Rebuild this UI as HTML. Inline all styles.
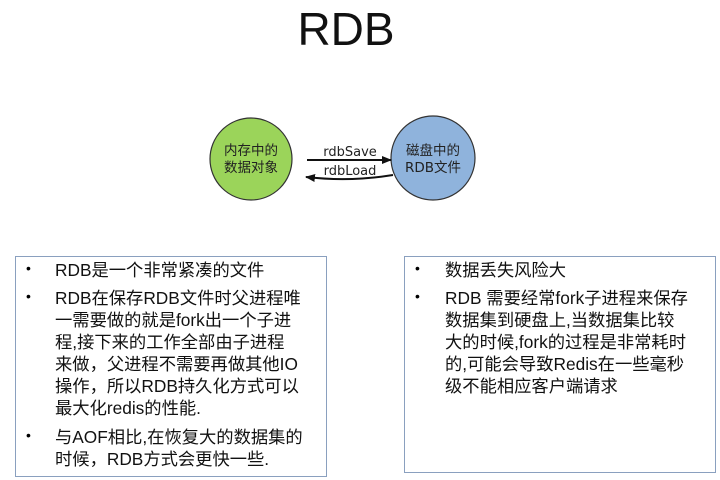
<!DOCTYPE html>
<html><head><meta charset="utf-8"><style>
body{margin:0;width:720px;height:480px;background:#fff;position:relative;overflow:hidden;font-family:"Liberation Sans","Noto Sans CJK SC",sans-serif;}
.t{position:absolute;left:0;width:692px;top:2px;text-align:center;font-size:46px;color:#111;}
.box{position:absolute;border:1.5px solid #8aa0bf;box-sizing:border-box;}
.l{position:absolute;font-size:17.3px;color:#111;white-space:nowrap;line-height:22px;}
.b{position:absolute;font-size:14px;}
</style></head><body>
<div class="t">RDB</div>
<svg width="720" height="480" style="position:absolute;left:0;top:0">
<defs><marker id="a" markerWidth="10" markerHeight="8" refX="9" refY="4" orient="auto" markerUnits="userSpaceOnUse"><path d="M0,0 L10,4 L0,8 Z" fill="#111"/></marker></defs>
<circle cx="251" cy="159" r="41" fill="#9bd45a" stroke="#333" stroke-width="1.2"/>
<circle cx="433" cy="158" r="42" fill="#8fb3dc" stroke="#333" stroke-width="1.2"/>
<line x1="307" y1="160" x2="391" y2="160" stroke="#111" stroke-width="2" marker-end="url(#a)"/>
<path d="M393,175 Q350,182 306,177" fill="none" stroke="#111" stroke-width="2" marker-end="url(#a)"/>
<text x="350" y="156" font-size="13" text-anchor="middle" font-family="DejaVu Sans" fill="#222">rdbSave</text>
<text x="350" y="175" font-size="13" text-anchor="middle" font-family="DejaVu Sans" fill="#222">rdbLoad</text>
<text x="251" y="155" font-size="13.5" text-anchor="middle" font-family="Noto Sans CJK SC" fill="#222">内存中的</text>
<text x="251" y="172" font-size="13.5" text-anchor="middle" font-family="Noto Sans CJK SC" fill="#222">数据对象</text>
<text x="433" y="155" font-size="13.5" text-anchor="middle" font-family="Noto Sans CJK SC" fill="#222">磁盘中的</text>
<text x="433" y="172" font-size="13.5" text-anchor="middle" font-family="DejaVu Sans, Noto Sans CJK SC" fill="#222">RDB文件</text>
</svg>
<div class="box" style="left:15px;top:256px;width:312px;height:221px"></div>
<div class="box" style="left:404px;top:256px;width:312px;height:217px"></div>
<div class="b" style="left:26px;top:260px">•</div>
<div class="b" style="left:26px;top:288px">•</div>
<div class="b" style="left:26px;top:427px">•</div>
<div class="l" style="left:55px;top:259px">RDB是一个非常紧凑的文件</div>
<div class="l" style="left:55px;top:287px">RDB在保存RDB文件时父进程唯<br>一需要做的就是fork出一个子进<br>程,接下来的工作全部由子进程<br>来做，父进程不需要再做其他IO<br>操作，所以RDB持久化方式可以<br>最大化redis的性能.</div>
<div class="l" style="left:55px;top:426px">与AOF相比,在恢复大的数据集的<br>时候，RDB方式会更快一些.</div>
<div class="b" style="left:415px;top:260px">•</div>
<div class="b" style="left:415px;top:288px">•</div>
<div class="l" style="left:445px;top:259px">数据丢失风险大</div>
<div class="l" style="left:445px;top:287px">RDB 需要经常fork子进程来保存<br>数据集到硬盘上,当数据集比较<br>大的时候,fork的过程是非常耗时<br>的,可能会导致Redis在一些毫秒<br>级不能相应客户端请求</div>
</body></html>
